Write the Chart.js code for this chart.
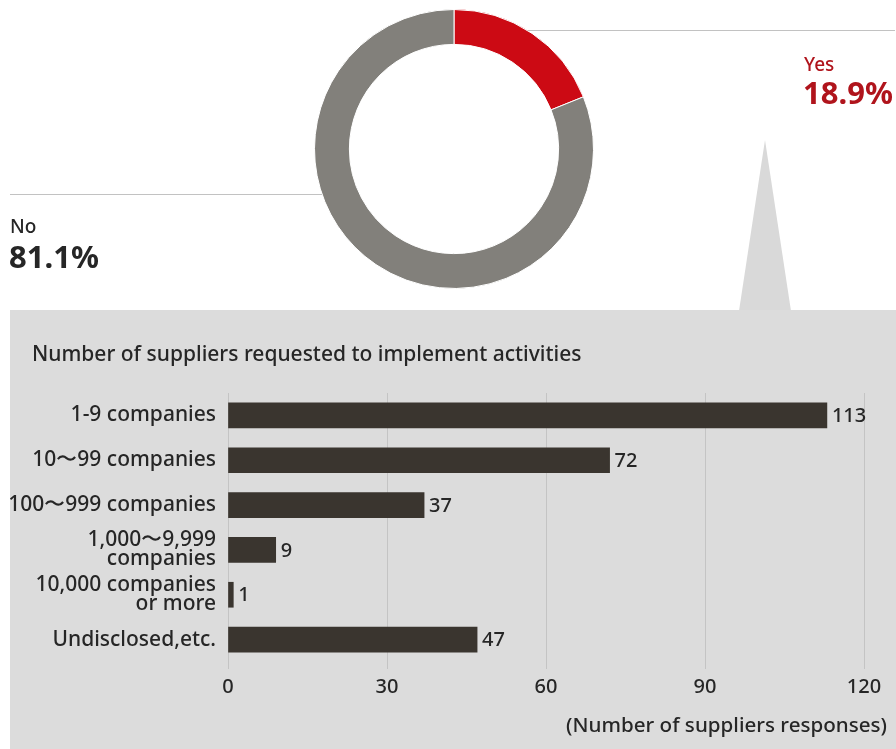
<!DOCTYPE html>
<html lang="en">
<head>
<meta charset="utf-8">
<title>Suppliers requested to implement activities</title>
<script src="https://cdn.jsdelivr.net/npm/chart.js@4.4.1/dist/chart.umd.min.js"></script>
<style>
  body { margin: 0; width: 896px; height: 749px; overflow: hidden; background: #fff; font-family: "Noto Sans", sans-serif; }
  #topWrap { position: absolute; left: 0; top: 0; width: 896px; height: 310px; }
  #panel { position: absolute; left: 10px; top: 310px; width: 886px; height: 439px; background: #dcdcdc; }
  #pointer { position: absolute; left: 739px; top: 140px; width: 52px; height: 171px; background: #d9d9d9;
             clip-path: polygon(50% 0, 100% 100%, 0 100%); }
  #barWrap { position: absolute; left: 10px; top: 310px; width: 886px; height: 439px; }
  .cap { position: absolute; color: #262626; font-size: 21px; font-weight: 500; white-space: nowrap; }
</style>
</head>
<body>
<div id="pointer"></div>
<div id="panel"></div>
<div id="topWrap"><canvas id="donut"></canvas></div>
<div id="barWrap"><canvas id="bars"></canvas></div>
<div class="cap" style="left:32px; top:339px;">Number of suppliers requested to implement activities</div>
<div class="cap" style="right:9px; top:710px; font-size:20.6px;">(Number of suppliers responses)</div>

<script>
// share of companies that asked suppliers to implement activities
const shareLabels = ['Yes', 'No'];
const shareValues = [18.9, 81.1];
const shareColors = ['#cc0a14', '#82807b'];

// breakdown of those who answered "Yes"
const sizeLabels = [
  '1-9 companies',
  '10〜99 companies',
  '100〜999 companies',
  ['1,000〜9,999', 'companies'],
  ['10,000 companies', 'or more'],
  'Undisclosed,etc.'
];
const sizeCounts = [113, 72, 37, 9, 1, 47];
const xTicks = [0, 30, 60, 90, 120];

const FONT = '"Noto Sans", sans-serif';

// leader lines and the Yes / No captions around the ring
const ringLabels = {
  id: 'ringLabels',
  afterDraw(chart) {
    const arc = chart.getDatasetMeta(0).data[0];
    const cx = arc.x, cy = arc.y, R = arc.outerRadius;
    const ctx = chart.ctx;
    ctx.save();
    ctx.strokeStyle = '#c2c2c2';
    ctx.lineWidth = 1;
    // yes line
    let y = 30.5;
    let dx = Math.sqrt(R * R - (cy - y) * (cy - y));
    ctx.beginPath(); ctx.moveTo(cx + dx, y); ctx.lineTo(895, y); ctx.stroke();
    // no line
    y = 194.5;
    dx = Math.sqrt(R * R - (cy - y) * (cy - y));
    ctx.beginPath(); ctx.moveTo(10, y); ctx.lineTo(cx - dx, y); ctx.stroke();

    ctx.textAlign = 'left';
    ctx.textBaseline = 'alphabetic';
    ctx.fillStyle = '#b0141c';
    ctx.font = '500 19px ' + FONT;
    ctx.fillText(shareLabels[0], 804, 71);
    ctx.font = 'bold 31px ' + FONT;
    ctx.fillText(shareValues[0].toFixed(1) + '%', 803, 104);
    ctx.fillStyle = '#262626';
    ctx.font = '500 19px ' + FONT;
    ctx.fillText(shareLabels[1], 10, 233);
    ctx.font = 'bold 31px ' + FONT;
    ctx.fillText(shareValues[1].toFixed(1) + '%', 9, 268);
    ctx.restore();
  }
};

new Chart(document.getElementById('donut'), {
  type: 'doughnut',
  data: {
    labels: shareLabels,
    datasets: [{
      data: shareValues,
      backgroundColor: shareColors,
      borderColor: '#ffffff',
      borderWidth: 1,
      hoverOffset: 0
    }]
  },
  options: {
    responsive: true,
    maintainAspectRatio: false,
    animation: false,
    events: [],
    cutout: '75%',
    layout: { padding: { left: 314, top: 9, right: 302, bottom: 21 } },
    plugins: { legend: { display: false }, tooltip: { enabled: false } }
  },
  plugins: [ringLabels]
});

// numbers at the end of each bar
const barValues = {
  id: 'barValues',
  afterDatasetsDraw(chart) {
    const ctx = chart.ctx;
    ctx.save();
    ctx.fillStyle = '#262626';
    ctx.font = '500 20px ' + FONT;
    ctx.textAlign = 'left';
    ctx.textBaseline = 'middle';
    chart.getDatasetMeta(0).data.forEach((bar, i) => {
      ctx.fillText(String(sizeCounts[i]), bar.x + 5, bar.y + 1);
    });
    ctx.restore();
  }
};

new Chart(document.getElementById('bars'), {
  type: 'bar',
  data: {
    labels: sizeLabels,
    datasets: [{
      data: sizeCounts,
      backgroundColor: '#3a352f',
      barThickness: 25
    }]
  },
  options: {
    indexAxis: 'y',
    responsive: true,
    maintainAspectRatio: false,
    animation: false,
    events: [],
    layout: { padding: { left: 0, top: 83, right: 32, bottom: 0 } },
    plugins: { legend: { display: false }, tooltip: { enabled: false } },
    scales: {
      x: {
        min: 0,
        max: 120,
        afterBuildTicks(scale) { scale.ticks = xTicks.map(v => ({ value: v })); },
        afterFit(scale) { scale.height = 87; },
        grid: { color: '#c4c4c4', lineWidth: 1, drawTicks: true, tickLength: 7 },
        border: { display: false },
        ticks: { color: '#262626', font: { family: FONT, size: 20, weight: 500 }, padding: 6 }
      },
      y: {
        afterFit(scale) { scale.width = 218; },
        grid: { display: false, drawTicks: false },
        border: { display: false },
        ticks: { color: '#262626', font: { family: FONT, size: 21, weight: 500, lineHeight: 0.9 }, padding: 12 }
      }
    }
  },
  plugins: [barValues]
});
</script>
</body>
</html>
